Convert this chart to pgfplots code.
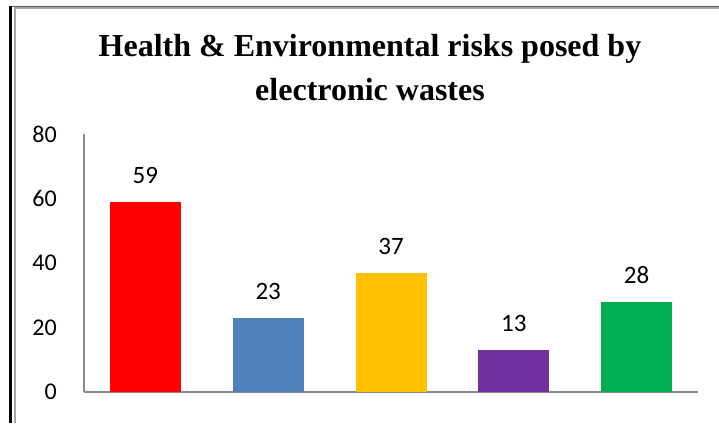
\documentclass[border=0pt]{standalone}
\usepackage{pgfplots}
\pgfplotsset{compat=1.18}
\usepackage{fontspec}
\setmainfont{Carlito}
\newfontfamily\titlefont{Liberation Serif}

\definecolor{barred}{HTML}{FF0000}
\definecolor{barblue}{HTML}{4F81BD}
\definecolor{bargold}{HTML}{FFC000}
\definecolor{barpurple}{HTML}{7030A0}
\definecolor{bargreen}{HTML}{00B050}
\definecolor{axisgray}{HTML}{898989}
\definecolor{framegray}{HTML}{595959}
\definecolor{framelight}{HTML}{A6A6A6}

\begin{document}
\begin{tikzpicture}[x=1pt,y=1pt]
\useasboundingbox (0,0) rectangle (719,423);
\fill[white] (0,0) rectangle (719,423);

% chart frame
\draw[framegray, line width=1.6pt] (9,416.5) -- (719,416.5);
\draw[framelight, line width=1.2pt] (14,415) -- (719,415);
\draw[black, line width=3pt] (10.5,0) -- (10.5,417.3);
\draw[framelight, line width=2pt] (14.7,0) -- (14.7,415.6);

% title
\node[anchor=base, font=\titlefont\bfseries\fontsize{32}{44}\selectfont] at (370,366) {Health \& Environmental risks posed by};
\node[anchor=base, font=\titlefont\bfseries\fontsize{32}{44}\selectfont] at (370,322) {electronic wastes};

\begin{axis}[
  at={(84pt,31pt)}, anchor=south west,
  scale only axis, width=614pt, height=258pt,
  xmin=-0.5, xmax=4.5, ymin=0, ymax=80,
  axis x line*=bottom, axis y line*=left,
  axis line style={draw=axisgray, line width=1.5pt},
  xtick=\empty, ytick={0,20,40,60,80},
  major tick length=0pt,
  /pgf/number format/assume math mode=true,
  yticklabel style={font=\fontsize{24}{24}\selectfont, anchor=east, inner sep=0pt, xshift=-27pt},
  ybar, bar width=71pt, bar shift=0pt,
  nodes near coords,
  nodes near coords style={font=\fontsize{25}{25}\selectfont, anchor=south, inner sep=0pt, yshift=18pt, text=black},
  clip=false,
]
\addplot[fill=barred, draw=none] coordinates {(0,59)};
\addplot[fill=barblue, draw=none] coordinates {(1,23)};
\addplot[fill=bargold, draw=none] coordinates {(2,37)};
\addplot[fill=barpurple, draw=none] coordinates {(3,13)};
\addplot[fill=bargreen, draw=none] coordinates {(4,28)};
\end{axis}
\end{tikzpicture}
\end{document}
